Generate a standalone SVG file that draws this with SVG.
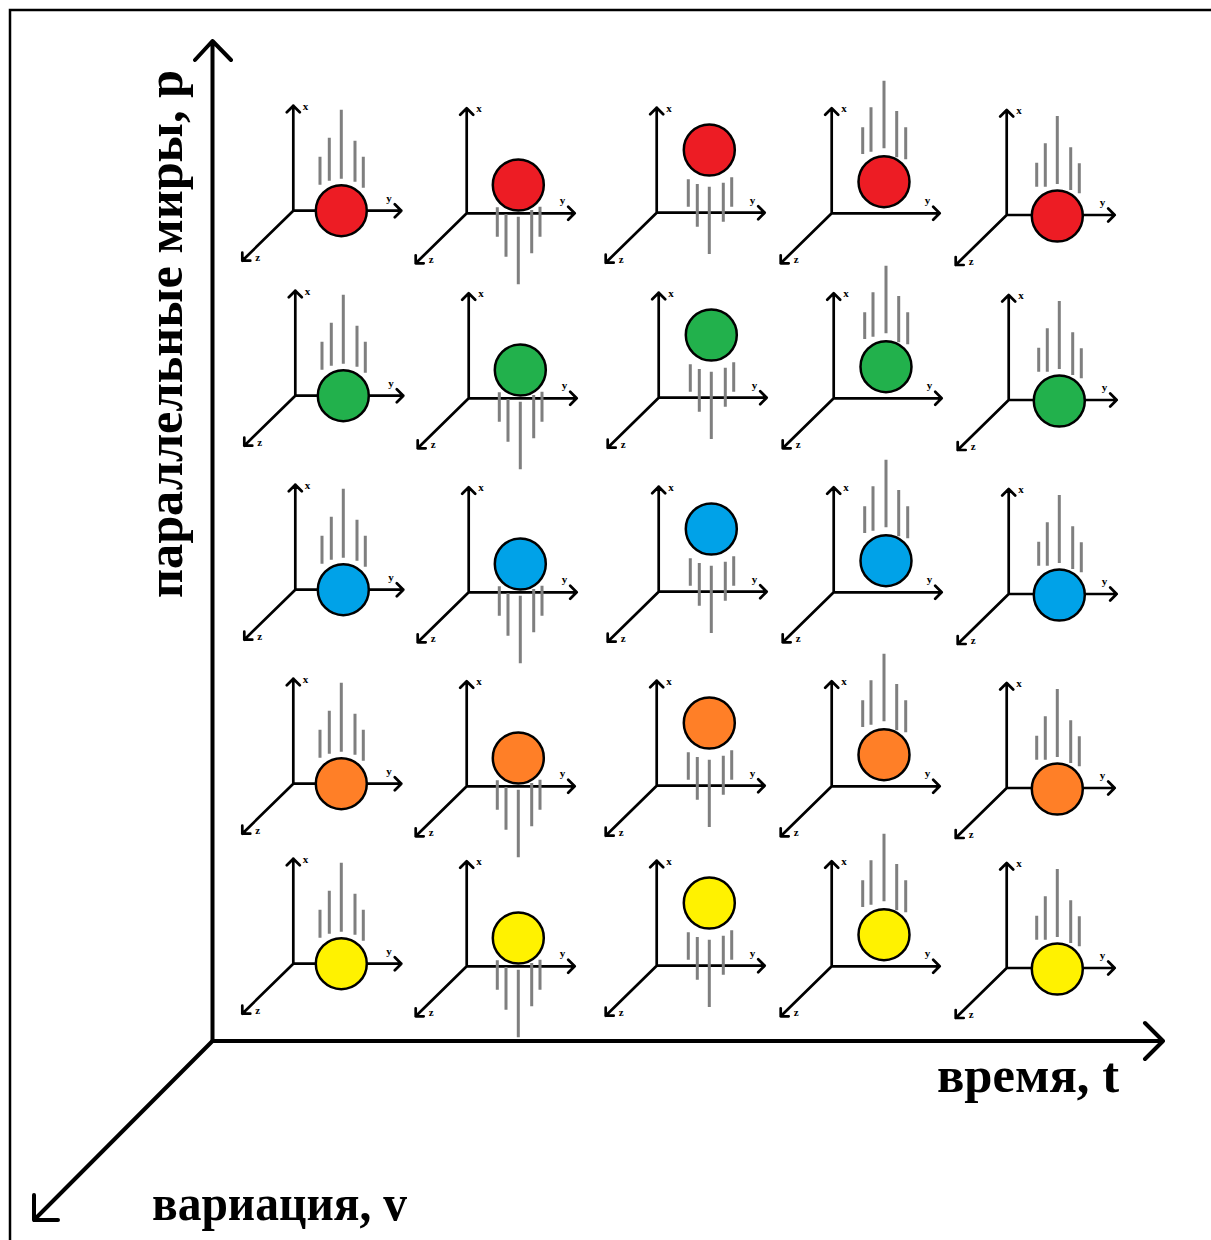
<svg xmlns="http://www.w3.org/2000/svg" xmlns:xlink="http://www.w3.org/1999/xlink" width="1211" height="1240" viewBox="0 0 1211 1240">
<style>
.frame{fill:none;stroke:#000;stroke-width:2.5}
.main{fill:none;stroke:#000;stroke-width:4;stroke-linecap:round;stroke-linejoin:round}
.cax{fill:none;stroke:#000;stroke-width:2.7;stroke-linecap:round;stroke-linejoin:round}
.lbl{font-family:"Liberation Serif","Times New Roman",serif;font-weight:bold;font-size:11px;fill:#000}
.big{font-family:"Liberation Serif","Times New Roman",serif;font-weight:bold;font-size:50px;fill:#000}
.st{stroke:#7f7f7f;stroke-width:3;fill:none}
.ball{stroke:#000;stroke-width:2.5}
.red{fill:#ed1c24}.green{fill:#22b14c}.blue{fill:#00a2e8}.orange{fill:#ff7f27}.yellow{fill:#fff200}
</style>
<defs>
<g id="ax">
<path class="cax" d="M0,0 V-105 M-6.5,-98.5 L0,-105 L6.5,-98.5 M0,0 H108 M101.5,-6.5 L108,0 L101.5,6.5 M0,0 L-51,50 M-51,42 L-51,50 L-43,50"/>
<text class="lbl" x="9.5" y="-101">x</text>
<text class="lbl" x="93" y="-9">y</text>
<text class="lbl" x="-38" y="50">z</text>
</g>
<g id="s1" class="st"><path d="M26.7,-54V-26M36,-73V-30M48,-101V-32M61.7,-70V-29M70,-54V-23"/></g>
<g id="s2" class="st"><path d="M30.6,-6V23.4M39.3,0.7V43.4M51.6,3.4V71M65,-3.3V40M73.3,-6.6V23.4"/></g>
<g id="s3" class="st"><path d="M31.6,-33.4V-6M40.6,-28.7V14M52.6,-26V41.3M66.6,-30V9M75,-35.4V-6"/></g>
<g id="s4" class="st"><path d="M31,-86V-59.3M39.3,-106V-61.6M52.3,-132.6V-65M65,-102.3V-56M74,-86V-54"/></g>
<g id="s5" class="st"><path d="M30,-52.3V-28.3M38.6,-71.7V-28.3M50.6,-99V-31M64,-67.7V-25M72.6,-51.7V-21.7"/></g>
</defs>
<rect width="1211" height="1240" fill="#fff"/>
<rect class="frame" x="10" y="10" width="1215" height="1250"/>

<g id="connectors">
<path class="main" d="M212.5,1041 V41 M195,60 L212.5,41 L231,60"/>
<path class="main" d="M212.5,1041 H1163 M1145,1023 L1163,1041 L1145,1059"/>
<path class="main" d="M212.5,1041 L34,1220 M34,1195 L34,1220 L58,1220"/>
</g>

<g id="labels">
<text class="big" transform="translate(182,598) rotate(-90)" textLength="528" lengthAdjust="spacingAndGlyphs">параллельные миры, p</text>
<text class="big" x="937" y="1092" textLength="182" lengthAdjust="spacingAndGlyphs">время, t</text>
<text class="big" x="152" y="1220" textLength="255" lengthAdjust="spacingAndGlyphs">вариация, v</text>
</g>

<!-- row 1 red -->
<g id="r1c1" transform="translate(293.3,210.7)"><use xlink:href="#ax"/><use xlink:href="#s1"/><circle class="ball red" cx="48" cy="0" r="25.5"/></g>
<g id="r1c2" transform="translate(466.7,213.3)"><use xlink:href="#ax"/><use xlink:href="#s2"/><circle class="ball red" cx="51.6" cy="-28.3" r="25.5"/></g>
<g id="r1c3" transform="translate(656.7,212.7)"><use xlink:href="#ax"/><use xlink:href="#s3"/><circle class="ball red" cx="52.6" cy="-62.7" r="25.5"/></g>
<g id="r1c4" transform="translate(831.7,213.3)"><use xlink:href="#ax"/><use xlink:href="#s4"/><circle class="ball red" cx="52.3" cy="-31.6" r="25.5"/></g>
<g id="r1c5" transform="translate(1006.7,215)"><use xlink:href="#ax"/><use xlink:href="#s5"/><circle class="ball red" cx="50.6" cy="1" r="25.5"/></g>

<!-- row 2 green -->
<g id="r2c1" transform="translate(295.3,395.7)"><use xlink:href="#ax"/><use xlink:href="#s1"/><circle class="ball green" cx="48" cy="0" r="25.5"/></g>
<g id="r2c2" transform="translate(468.7,398.3)"><use xlink:href="#ax"/><use xlink:href="#s2"/><circle class="ball green" cx="51.6" cy="-28.3" r="25.5"/></g>
<g id="r2c3" transform="translate(658.7,397.7)"><use xlink:href="#ax"/><use xlink:href="#s3"/><circle class="ball green" cx="52.6" cy="-62.7" r="25.5"/></g>
<g id="r2c4" transform="translate(833.7,398.3)"><use xlink:href="#ax"/><use xlink:href="#s4"/><circle class="ball green" cx="52.3" cy="-31.6" r="25.5"/></g>
<g id="r2c5" transform="translate(1008.7,400)"><use xlink:href="#ax"/><use xlink:href="#s5"/><circle class="ball green" cx="50.6" cy="1" r="25.5"/></g>

<!-- row 3 blue -->
<g id="r3c1" transform="translate(295.3,589.7)"><use xlink:href="#ax"/><use xlink:href="#s1"/><circle class="ball blue" cx="48" cy="0" r="25.5"/></g>
<g id="r3c2" transform="translate(468.7,592.3)"><use xlink:href="#ax"/><use xlink:href="#s2"/><circle class="ball blue" cx="51.6" cy="-28.3" r="25.5"/></g>
<g id="r3c3" transform="translate(658.7,591.7)"><use xlink:href="#ax"/><use xlink:href="#s3"/><circle class="ball blue" cx="52.6" cy="-62.7" r="25.5"/></g>
<g id="r3c4" transform="translate(833.7,592.3)"><use xlink:href="#ax"/><use xlink:href="#s4"/><circle class="ball blue" cx="52.3" cy="-31.6" r="25.5"/></g>
<g id="r3c5" transform="translate(1008.7,594)"><use xlink:href="#ax"/><use xlink:href="#s5"/><circle class="ball blue" cx="50.6" cy="1" r="25.5"/></g>

<!-- row 4 orange -->
<g id="r4c1" transform="translate(293.3,783.7)"><use xlink:href="#ax"/><use xlink:href="#s1"/><circle class="ball orange" cx="48" cy="0" r="25.5"/></g>
<g id="r4c2" transform="translate(466.7,786.3)"><use xlink:href="#ax"/><use xlink:href="#s2"/><circle class="ball orange" cx="51.6" cy="-28.3" r="25.5"/></g>
<g id="r4c3" transform="translate(656.7,785.7)"><use xlink:href="#ax"/><use xlink:href="#s3"/><circle class="ball orange" cx="52.6" cy="-62.7" r="25.5"/></g>
<g id="r4c4" transform="translate(831.7,786.3)"><use xlink:href="#ax"/><use xlink:href="#s4"/><circle class="ball orange" cx="52.3" cy="-31.6" r="25.5"/></g>
<g id="r4c5" transform="translate(1006.7,788)"><use xlink:href="#ax"/><use xlink:href="#s5"/><circle class="ball orange" cx="50.6" cy="1" r="25.5"/></g>

<!-- row 5 yellow -->
<g id="r5c1" transform="translate(293.3,963.7)"><use xlink:href="#ax"/><use xlink:href="#s1"/><circle class="ball yellow" cx="48" cy="0" r="25.5"/></g>
<g id="r5c2" transform="translate(466.7,966.3)"><use xlink:href="#ax"/><use xlink:href="#s2"/><circle class="ball yellow" cx="51.6" cy="-28.3" r="25.5"/></g>
<g id="r5c3" transform="translate(656.7,965.7)"><use xlink:href="#ax"/><use xlink:href="#s3"/><circle class="ball yellow" cx="52.6" cy="-62.7" r="25.5"/></g>
<g id="r5c4" transform="translate(831.7,966.3)"><use xlink:href="#ax"/><use xlink:href="#s4"/><circle class="ball yellow" cx="52.3" cy="-31.6" r="25.5"/></g>
<g id="r5c5" transform="translate(1006.7,968)"><use xlink:href="#ax"/><use xlink:href="#s5"/><circle class="ball yellow" cx="50.6" cy="1" r="25.5"/></g>
</svg>
